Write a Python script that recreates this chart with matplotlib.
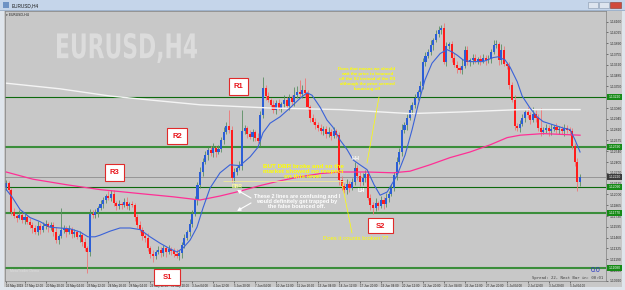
import numpy as np
import matplotlib
matplotlib.use("Agg")
import matplotlib.pyplot as plt
from matplotlib.patches import Rectangle, PathPatch
from matplotlib.textpath import TextPath
from matplotlib.font_manager import FontProperties
from matplotlib import transforms as mtransforms

plt.rcParams['font.family'] = ['Liberation Sans', 'DejaVu Sans']

# EURUSD H4, one candle every 4 hours, 16 May 2019 08:00 .. 5 Jul 2019 20:00
first_open = 1.1208
closes = [
    1.1214, 1.1206, 1.1178, 1.1173, 1.1171, 1.1174, 1.1168, 1.1172, 1.1166, 1.1162,
    1.1158, 1.1153, 1.1161, 1.1156, 1.1161, 1.1163, 1.1159, 1.1162, 1.1153, 1.1143,
    1.1148, 1.1156, 1.1158, 1.1153, 1.1157, 1.1151, 1.1153, 1.1147, 1.1149, 1.1141,
    1.1133, 1.1128, 1.1176, 1.1174, 1.1178, 1.1183, 1.1188, 1.1193, 1.1198, 1.1196,
    1.1201, 1.1189, 1.1186, 1.1188, 1.1187, 1.1191, 1.1186, 1.1188, 1.1187, 1.1172,
    1.1162, 1.1156, 1.1148, 1.1146, 1.1133, 1.1126, 1.1123, 1.1128, 1.1131, 1.1127,
    1.1133, 1.1128, 1.1132, 1.1129, 1.1126, 1.1123, 1.1127, 1.1137, 1.1146, 1.1153,
    1.1163, 1.1176, 1.1193, 1.1212, 1.1228, 1.1241, 1.1249, 1.1256, 1.1252, 1.1258,
    1.1253, 1.1257, 1.1268, 1.1278, 1.1286, 1.1281, 1.1221, 1.1228, 1.1233, 1.1236,
    1.1279, 1.1283, 1.1276, 1.1272, 1.1278, 1.1271, 1.1267, 1.1299, 1.1333, 1.1323,
    1.1318, 1.1312, 1.1306, 1.1314, 1.1308, 1.1313, 1.1318, 1.1311, 1.1321, 1.1316,
    1.1324, 1.1328, 1.1326, 1.1331, 1.1327, 1.1309, 1.1296, 1.1291, 1.1287, 1.1283,
    1.1279, 1.1282, 1.1276, 1.1278, 1.1273, 1.1279, 1.1274, 1.1218, 1.1211, 1.1206,
    1.1213, 1.1208, 1.1216, 1.1233, 1.1223, 1.1216, 1.1221, 1.1226, 1.1196, 1.1187,
    1.1183, 1.1189, 1.1186, 1.1193, 1.1188, 1.1196, 1.1201, 1.1208, 1.1224, 1.1241,
    1.1253, 1.1281, 1.1287, 1.1296, 1.1306, 1.1312, 1.1321, 1.1328, 1.1336, 1.1366,
    1.1373, 1.1378, 1.1387, 1.1393, 1.1401, 1.1406, 1.1408, 1.1366, 1.1386, 1.1388,
    1.1371, 1.1362, 1.1358, 1.1356, 1.1361, 1.1381, 1.1366, 1.1368, 1.1371, 1.1367,
    1.1369, 1.1367, 1.1371, 1.1368, 1.1369, 1.1378, 1.1387, 1.1388, 1.1368, 1.1381,
    1.1363, 1.1361, 1.1337, 1.1318, 1.1286, 1.1283, 1.1288, 1.1296, 1.1303, 1.1299,
    1.1293, 1.1301, 1.1296, 1.1283, 1.1278, 1.1281, 1.1283, 1.1279, 1.1282, 1.1284,
    1.1281, 1.1282, 1.1279, 1.1283, 1.1281, 1.1279, 1.1261, 1.1241, 1.1216, 1.1222,
]
# upper / lower shadows in pips
wick_up = [
    4, 3, 2, 5, 3, 6, 3, 4, 2, 5, 3, 4, 6, 3, 4, 5, 2, 4, 3, 6,
    3, 27, 4, 3, 5, 2, 4, 3, 5, 3, 4, 2, 6, 5, 4, 3, 5, 4, 3, 6,
    5, 4, 3, 5, 2, 4, 6, 3, 4, 2, 3, 5, 3, 4, 6, 3, 4, 2, 5, 3,
    4, 3, 5, 2, 4, 6, 3, 4, 5, 3, 6, 4, 5, 3, 6, 4, 5, 3, 4, 6,
    3, 5, 4, 6, 5, 20, 4, 5, 3, 6, 26, 4, 3, 5, 4, 3, 6, 5, 14, 4,
    5, 3, 6, 4, 5, 3, 6, 4, 5, 3, 10, 8, 15, 6, 14, 4, 3, 5, 4, 3,
    5, 4, 3, 6, 4, 5, 3, 4, 5, 3, 6, 4, 5, 7, 4, 5, 6, 4, 3, 5,
    4, 6, 3, 5, 4, 6, 3, 5, 4, 6, 5, 7, 4, 5, 6, 4, 5, 3, 6, 4,
    5, 4, 6, 3, 5, 4, 4, 6, 5, 3, 4, 6, 5, 3, 8, 5, 4, 3, 5, 4,
    3, 5, 4, 3, 5, 4, 6, 5, 3, 7, 4, 3, 5, 4, 6, 3, 5, 4, 3, 6,
    4, 8, 5, 4, 25, 3, 5, 4, 6, 3, 5, 4, 3, 5, 4, 3, 4, 3, 5, 3,
]
wick_dn = [
    3, 5, 4, 3, 6, 2, 4, 5, 3, 4, 6, 3, 4, 5, 3, 4, 6, 3, 5, 4,
    5, 3, 4, 6, 3, 5, 4, 3, 6, 5, 4, 26, 5, 3, 4, 6, 3, 5, 4, 3,
    4, 3, 6, 4, 5, 3, 4, 6, 3, 5, 4, 3, 5, 6, 4, 5, 7, 4, 3, 5,
    4, 6, 3, 5, 4, 3, 5, 6, 4, 3, 5, 4, 3, 6, 4, 5, 3, 6, 4, 5,
    6, 3, 4, 5, 3, 4, 6, 5, 4, 3, 5, 4, 6, 3, 5, 4, 3, 6, 4, 5,
    3, 5, 4, 6, 3, 5, 4, 3, 6, 4, 5, 3, 4, 6, 5, 4, 6, 3, 5, 4,
    3, 5, 6, 4, 5, 3, 4, 6, 5, 4, 6, 5, 3, 4, 5, 6, 4, 5, 3, 6,
    7, 4, 5, 3, 6, 4, 5, 3, 4, 6, 3, 5, 4, 6, 3, 5, 4, 3, 6, 4,
    5, 3, 4, 6, 3, 4, 5, 3, 6, 4, 5, 3, 6, 4, 5, 3, 4, 6, 5, 3,
    4, 5, 3, 6, 4, 5, 3, 4, 6, 5, 3, 4, 5, 3, 6, 4, 5, 3, 6, 4,
    5, 3, 6, 4, 5, 3, 4, 6, 5, 3, 4, 5, 3, 6, 4, 5, 4, 6, 12, 5,
]

# indicator lines (bar index, price)
ma_fast_bar = [0, 2.2, 5.3, 9.1, 12.9, 16.7, 20.5, 24.4, 28.2, 31.2, 33.9, 35.8, 39.6, 43.4, 47.3,
               51.1, 54.9, 58.7, 62.5, 65.2, 67.5, 70.2, 72.8, 75.1, 77.8, 81.6, 85.4, 89.2, 93.1, 96.1,
               98.0, 100.7, 104.5, 108.3, 112.1, 114.8, 116.7, 119.8, 122.4, 124.7, 127.4, 130.1, 132.4,
               135.0, 137.7, 140.4, 142.7, 145.4, 149.2, 152.2, 154.9, 157.2, 159.8, 162.5, 165.6, 168.2,
               170.2, 172.1, 174.4, 177.0, 182.0, 185.8, 187.7, 190.4, 192.3, 195.0, 196.9, 199.9, 202.6,
               204.9, 208.7, 212.5, 215.2, 217.1, 219.0]
ma_fast = [1.1206, 1.1197, 1.1181, 1.1171, 1.1166, 1.1159, 1.1158, 1.1157, 1.1153, 1.1147, 1.1147,
           1.1149, 1.1154, 1.1158, 1.1158, 1.1156, 1.1147, 1.1139, 1.1132, 1.1128, 1.1133, 1.1143,
           1.1159, 1.1183, 1.1208, 1.1227, 1.1237, 1.1236, 1.1247, 1.1259, 1.1277, 1.1289, 1.1297,
           1.1308, 1.1320, 1.1327, 1.1324, 1.1309, 1.1293, 1.1284, 1.1268, 1.1256, 1.1243, 1.1237,
           1.1231, 1.1212, 1.1199, 1.1203, 1.1224, 1.1249, 1.1281, 1.1312, 1.1343, 1.1364, 1.1376,
           1.1381, 1.1378, 1.1374, 1.1368, 1.1366, 1.1366, 1.1371, 1.1372, 1.1368, 1.1359, 1.1341,
           1.1323, 1.1308, 1.1297, 1.1291, 1.1287, 1.1283, 1.1281, 1.1268, 1.1253]
ma_pink_bar = [0, 10.2, 23.2, 35.8, 51.1, 63.7, 74.0, 81.6, 89.2, 96.9, 104.5, 112.1, 119.8, 127.4,
               137.7, 147.7, 154.1, 161.7, 169.4, 177.0, 184.7, 191.2, 196.1, 204.9, 219.0]
ma_pink = [1.1228, 1.1219, 1.1212, 1.1206, 1.1201, 1.1197, 1.1193, 1.1198, 1.1204, 1.1211, 1.1217,
           1.1222, 1.1226, 1.1228, 1.1228, 1.1227, 1.1229, 1.1237, 1.1246, 1.1253, 1.1262, 1.1271,
           1.1274, 1.1276, 1.1274]
ma_white_bar = [0, 20.5, 39.6, 54.9, 74.0, 100.7, 127.4, 154.1, 173.2, 196.1, 219.0]
ma_white = [1.1339, 1.1332, 1.1323, 1.1318, 1.1312, 1.1308, 1.1306, 1.1301, 1.1303, 1.1306, 1.1306]

# horizontal levels drawn by the user, and the bid line
level_thin = [1.1322, 1.1209]
level_thick = [1.1259, 1.1177, 1.1108]
bid = 1.1222
dbr_level = 1.1217

price_ticks = [1.14160, 1.14025, 1.13890, 1.13755, 1.13620, 1.13485, 1.13350, 1.13215, 1.13080,
               1.12945, 1.12810, 1.12675, 1.12540, 1.12405, 1.12270, 1.12135, 1.12000, 1.11865,
               1.11730, 1.11595, 1.11460, 1.11325, 1.11190, 1.11055, 1.10920]
time_ticks = [0, 7, 15, 23, 31, 39, 47, 55, 63, 71, 79, 87, 95, 103, 111, 119, 127, 135, 143,
              151, 159, 167, 175, 183, 191, 199, 207, 215]
time_labels = ["16 May 2019", "17 May 12:00", "20 May 20:00", "22 May 04:00", "23 May 12:00",
               "24 May 20:00", "28 May 04:00", "29 May 12:00", "30 May 20:00", "3 Jun 04:00",
               "4 Jun 12:00", "5 Jun 20:00", "7 Jun 04:00", "10 Jun 12:00", "11 Jun 20:00",
               "13 Jun 04:00", "14 Jun 12:00", "17 Jun 20:00", "19 Jun 04:00", "20 Jun 12:00",
               "21 Jun 20:00", "25 Jun 04:00", "26 Jun 12:00", "27 Jun 20:00", "1 Jul 04:00",
               "2 Jul 12:00", "3 Jul 20:00", "5 Jul 04:00"]

BG = '#c8c8c8'
W, H = 625, 290

fig = plt.figure(figsize=(6.25, 2.9), dpi=100)
fig.patch.set_facecolor('#dfe5ec')
# pixel coordinates measured from the top-left corner
tr = mtransforms.Affine2D().scale(1 / W, -1 / H).translate(0, 1) + fig.transFigure


def win_rect(x0, y0, x1, y1, **kw):
    fig.add_artist(Rectangle((x0, y0), x1 - x0, y1 - y0, transform=tr, zorder=-1, **kw))


# window frame
win_rect(0, 0, 625, 10, fc='#c5d5ea', ec='none')
win_rect(0, 10, 625, 11, fc='#9fb3cc', ec='none')
win_rect(4, 11, 622, 287, fc=BG, ec='none')
win_rect(3, 2, 9, 8, fc='#6f93c4', ec='none')
win_rect(588, 2, 598, 8, fc='#dde4ee', ec='#8797ad', lw=0.4)
win_rect(599, 2, 609, 8, fc='#dde4ee', ec='#8797ad', lw=0.4)
win_rect(610, 2, 621, 8, fc='#d04a3c', ec='#8a3a30', lw=0.4)
fig.text(12 / W, 1 - 5.5 / H, 'EURUSD,H4', fontsize=3.4, color='#1a1a1a', va='center')

ax = fig.add_axes([5 / W, 1 - 281 / H, 601 / W, 270 / H])
ax.set_facecolor(BG)
ax.set_xlim(-0.46, 228.9)
ax.set_ylim(1.109175, 1.142925)

# big watermark
fp = FontProperties(family='DejaVu Sans', weight='bold')
tp = TextPath((0, 0), 'EURUSD,H4', size=10, prop=fp)
bb = tp.get_extents()
wm_tr = (mtransforms.Affine2D().translate(-bb.x0, -bb.y0)
         .scale(140 / bb.width, -30 / bb.height).translate(57, 63) + tr)
ax.add_patch(PathPatch(tp, transform=wm_tr, fc='#dcdcdc', ec='none', zorder=0.5))

# candles
closes = np.array(closes)
opens = np.r_[first_open, closes[:-1]]
highs = np.maximum(opens, closes) + np.array(wick_up) * 0.0001
lows = np.minimum(opens, closes) - np.array(wick_dn) * 0.0001
x = np.arange(len(closes))
up = closes >= opens
dn = ~up
ax.vlines(x[up], lows[up], highs[up], color='#5a8e62', lw=0.6, zorder=2)
ax.vlines(x[dn], lows[dn], highs[dn], color='#ef7676', lw=0.6, zorder=2)
body = np.maximum(np.abs(closes - opens), 0.00003)
bottom = np.minimum(opens, closes)
ax.bar(x[up], body[up], bottom=bottom[up], width=0.8, color='#2b5ed6', lw=0, zorder=2.2)
ax.bar(x[dn], body[dn], bottom=bottom[dn], width=0.8, color='#ff1c1c', lw=0, zorder=2.2)

# indicators
ax.plot(ma_white_bar, ma_white, color='#f4f4f4', lw=1.0, zorder=2.5)
ax.plot(ma_pink_bar, ma_pink, color='#ff2f95', lw=0.9, zorder=2.6)
ax.plot(ma_fast_bar, ma_fast, color='#3a62d8', lw=0.8, zorder=2.7)

# levels
for lv in level_thin:
    ax.axhline(lv, color='#0d6a0d', lw=0.8, zorder=1.5)
for lv in level_thick:
    ax.axhline(lv, color='#3b8e3b', lw=1.5, zorder=1.5)
ax.axhline(bid, color='#969696', lw=0.7, zorder=1.4)
ax.hlines(dbr_level, 82.8, 129.3, color='#f0ea98', lw=0.6, zorder=2.8)

# axes styling
for s in ax.spines.values():
    s.set_color('#7f7f7f')
    s.set_linewidth(0.5)
ax.yaxis.tick_right()
ax.set_yticks(price_ticks)
ax.set_yticklabels([f'{v:.5f}' for v in price_ticks])
ax.tick_params(axis='y', length=1.5, width=0.4, pad=1.2, labelsize=2.4, colors='#2b2b2b')
ax.set_xticks(time_ticks)
ax.set_xticklabels(time_labels, ha='left')
ax.tick_params(axis='x', length=1.5, width=0.4, pad=0.8, labelsize=2.2, colors='#2b2b2b')

lab_tr = mtransforms.blended_transform_factory(ax.transAxes, ax.transData)
for lv in level_thin + level_thick:
    ax.text(1.0 + 2.5 / 601, lv, f'{lv:.5f}', transform=lab_tr, fontsize=2.4, color='white',
            va='center', ha='left', clip_on=False, zorder=6,
            bbox=dict(boxstyle='square,pad=0.35', fc='#168a16', ec='none'))
ax.text(1.0 + 2.5 / 601, bid, f'{bid:.5f}', transform=lab_tr, fontsize=2.4, color='white',
        va='center', ha='left', clip_on=False, zorder=6,
        bbox=dict(boxstyle='square,pad=0.35', fc='#3a3a3a', ec='none'))

# chart texts
ax.text(6, 14.5, '\u25be EURUSD,H4', transform=tr, fontsize=2.4, color='#202020', va='center',
        family=['DejaVu Sans'])
ax.text(10, 271.5, 'MetaTrader Demo', transform=tr, fontsize=2.6, color='#dedede', va='center')
ax.text(596, 270, '0.0', transform=tr, fontsize=5, color='#2533c4', ha='center', va='center')
ax.text(603, 278, 'Spread: 22, Next Bar in: 00:01', transform=tr, fontsize=2.9,
        family='DejaVu Sans Mono', color='#404040', ha='right', va='center')

bold = dict(family=['Liberation Sans', 'DejaVu Sans'], weight='bold')

# level tags
for name, (x0, y0, x1, y1) in {'R1': (229, 78, 248, 95), 'R2': (167, 128, 187, 144),
                               'R3': (105, 164, 124, 181), 'S1': (154, 269, 180, 285),
                               'S2': (368, 218, 393, 233)}.items():
    ax.add_patch(Rectangle((x0, y0), x1 - x0, y1 - y0, transform=tr, fc='white',
                           ec='#e02a2a', lw=0.8, clip_on=False, zorder=7))
    ax.text((x0 + x1) / 2, (y0 + y1) / 2 + 0.5, name, transform=tr, fontsize=5.5,
            color='#e8141b', ha='center', va='center', clip_on=False, zorder=8, **bold)

ax.text(367, 79, 'Does that means we should\nwait the price to bounced\noff the S2 instead of the R3\n'
        'although the price seemed\nbouncing off', transform=tr, fontsize=3.2, color='#ffff00',
        ha='center', va='center', linespacing=1.3, zorder=5, **bold)
ax.text(303, 171, 'BUT DBR broke and so the\nmarket showed no respect\non this level', transform=tr,
        fontsize=4.6, color='#ffff00', ha='center', va='center', linespacing=1.0, zorder=5, **bold)
ax.text(297, 201.5, 'These 2 lines are confusing and I\nwould definitely get trapped by\n'
        'the false bounced off.', transform=tr, fontsize=4.0, color='white', ha='center',
        va='center', linespacing=0.95, zorder=5, **bold)
ax.text(356, 238, 'Does it counts broken ??', transform=tr, fontsize=4.2, color='#ffff00',
        ha='center', va='center', zorder=5)
ax.text(356, 159, 'HH', transform=tr, fontsize=4, color='white', ha='center', va='center',
        zorder=5, **bold)
ax.text(361, 190.5, 'LH', transform=tr, fontsize=4, color='white', ha='center', va='center',
        zorder=5, **bold)
ax.text(237.5, 186, 'DBR', transform=tr, fontsize=3.6, color='#ffff99', ha='center',
        va='center', zorder=5, **bold)

ax.plot([379, 367], [97, 163], transform=tr, color='#ffff00', lw=0.5, zorder=4)
ax.plot([342, 352], [183, 233], transform=tr, color='#ffff00', lw=0.5, zorder=4)
for tip, tail in [((237, 190), (251, 198)), ((237, 211), (251, 203))]:
    ax.annotate('', xy=tip, xytext=tail, xycoords=tr, textcoords=tr,
                arrowprops=dict(arrowstyle='-|>', color='white', lw=0.8, mutation_scale=5,
                                shrinkA=0, shrinkB=0), zorder=5)

fig.savefig('out.png', dpi=100)
